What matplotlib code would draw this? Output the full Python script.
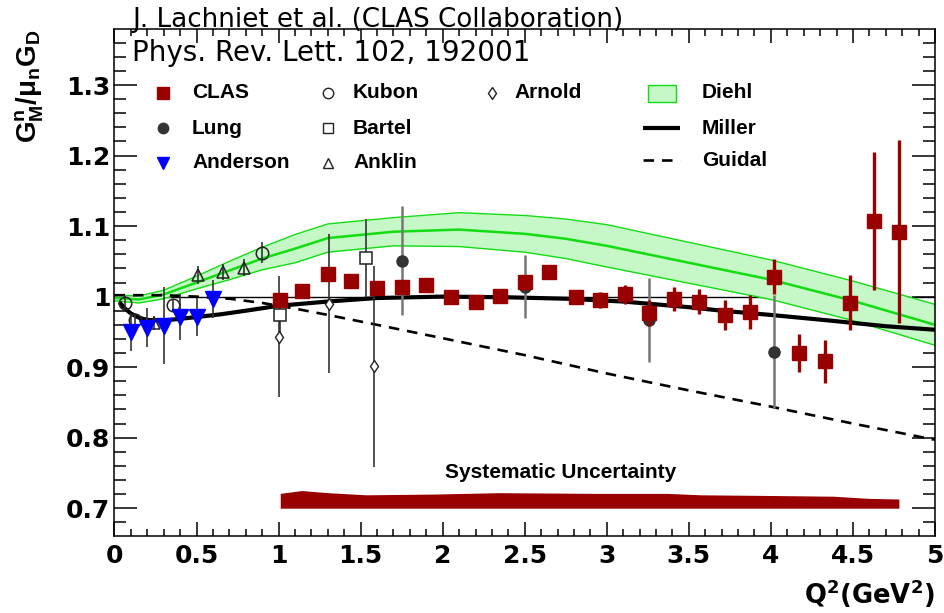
import matplotlib
matplotlib.use("Agg")
import matplotlib.pyplot as plt
from matplotlib.ticker import MultipleLocator, FuncFormatter
from matplotlib.patches import Rectangle

plt.rcParams['font.family'] = ['Liberation Sans', 'DejaVu Sans']
plt.rcParams['font.weight'] = 'bold'
plt.rcParams['mathtext.fontset'] = 'custom'
plt.rcParams['mathtext.rm'] = 'Liberation Sans:bold'
plt.rcParams['mathtext.bf'] = 'Liberation Sans:bold'
plt.rcParams['mathtext.it'] = 'Liberation Sans:bold'

# ---- measurements: G_M^n / (mu_n G_D) versus Q^2 (GeV^2) ----
clas_q2 = [1.01, 1.14, 1.30, 1.44, 1.60, 1.75, 1.90, 2.05, 2.20, 2.35, 2.50, 2.65, 2.81,
           2.96, 3.11, 3.26, 3.41, 3.56, 3.72, 3.87, 4.02, 4.17, 4.33, 4.48, 4.63, 4.78]
clas_val = [0.995, 1.008, 1.032, 1.022, 1.012, 1.014, 1.017, 1.000, 0.993, 1.001, 1.021,
            1.035, 1.000, 0.995, 1.003, 0.977, 0.997, 0.993, 0.974, 0.978, 1.028, 0.920,
            0.908, 0.991, 1.107, 1.092]
clas_err = [0.006, 0.005, 0.006, 0.005, 0.006, 0.006, 0.006, 0.005, 0.005, 0.005, 0.010,
            0.009, 0.010, 0.011, 0.014, 0.018, 0.017, 0.018, 0.021, 0.024, 0.025, 0.027,
            0.030, 0.039, 0.098, 0.130]

lung_q2 = [1.75, 2.50, 3.26, 4.02]
lung_val = [1.051, 1.014, 0.967, 0.922]
lung_err = [0.077, 0.045, 0.060, 0.080]

anderson_q2 = [0.1, 0.2, 0.3, 0.4, 0.5, 0.6]
anderson_val = [0.950, 0.956, 0.959, 0.971, 0.971, 0.997]
anderson_err = [0.027, 0.028, 0.055, 0.032, 0.027, 0.027]

kubon_q2 = [0.064, 0.125, 0.357, 0.90]
kubon_val = [0.991, 0.967, 0.988, 1.062]
kubon_err = [0.010, 0.010, 0.008, 0.015]

bartel_q2 = [1.01, 1.53]
bartel_val = [0.974, 1.055]
bartel_err = [0.030, 0.055]

anklin_q2 = [0.24, 0.51, 0.66, 0.79]
anklin_val = [0.962, 1.031, 1.035, 1.041]
anklin_err = [0.010, 0.013, 0.011, 0.012]

arnold_q2 = [1.00, 1.31, 1.58]
arnold_val = [0.943, 0.990, 0.901]
arnold_err = [0.086, 0.099, 0.142]

# systematic uncertainty band of the CLAS points
sys_q2 = [1.01, 1.14, 1.30, 1.53, 1.94, 2.34, 2.95, 3.37, 3.57, 4.00, 4.38, 4.59, 4.78]
sys_top = [0.721, 0.725, 0.722, 0.719, 0.720, 0.722, 0.721, 0.721, 0.719, 0.718, 0.717,
           0.714, 0.713]
sys_base = 0.70

# ---- model curves ----
diehl_q2 = [0.0, 0.15, 0.3, 0.5, 0.7, 0.9, 1.1, 1.3, 1.7, 2.1, 2.5, 2.75, 3.0, 3.5, 4.0,
            4.5, 5.0]
diehl_mid = [0.998, 0.996, 1.003, 1.020, 1.037, 1.054, 1.068, 1.083, 1.092, 1.095, 1.089,
             1.082, 1.072, 1.048, 1.024, 0.994, 0.960]
diehl_hi = [1.002, 1.001, 1.009, 1.029, 1.050, 1.070, 1.088, 1.103, 1.112, 1.119, 1.115,
            1.110, 1.102, 1.077, 1.052, 1.022, 0.989]
diehl_lo = [0.994, 0.991, 0.997, 1.011, 1.024, 1.038, 1.048, 1.063, 1.072, 1.071, 1.063,
            1.054, 1.042, 1.019, 0.996, 0.966, 0.931]

miller_q2 = [0.03, 0.06, 0.10, 0.15, 0.20, 0.28, 0.38, 0.50, 0.65, 0.80, 1.00, 1.30, 1.60,
             2.00, 2.40, 2.75, 3.10, 3.50, 3.70, 4.00, 4.36, 4.70, 5.00]
miller_val = [0.992, 0.984, 0.976, 0.970, 0.967, 0.966, 0.968, 0.971, 0.975, 0.980, 0.987,
              0.993, 0.998, 1.000, 0.999, 0.997, 0.993, 0.985, 0.980, 0.974, 0.966, 0.958,
              0.953]

guidal_q2 = [0.0, 0.3, 0.5, 0.7, 0.9, 1.1, 1.3, 1.6, 2.0, 2.5, 3.0, 3.5, 4.0, 4.5, 5.0]
guidal_val = [1.002, 1.002, 1.000, 0.997, 0.991, 0.983, 0.974, 0.960, 0.941, 0.917, 0.891,
              0.867, 0.844, 0.820, 0.797]

CLAS_RED = '#990000'
GREEN_FILL = '#c6f7c6'
GREEN_LINE = '#11dd11'
WIDE = 'DejaVu Sans'

fig = plt.figure(figsize=(9.45, 6.13), dpi=100)
W, H = 945.0, 613.0
ax = fig.add_axes([114.5 / W, 1 - 535.7 / H, 820.5 / W, 506.4 / H])
ax.set_xlim(0, 5)
ax.set_ylim(0.661, 1.379)

# reference line at unity
ax.axhline(1.0, color='black', lw=1.0, zorder=1)

# Diehl band
ax.fill_between(diehl_q2, diehl_lo, diehl_hi, color=GREEN_FILL, lw=0, zorder=2)
ax.plot(diehl_q2, diehl_hi, color=GREEN_LINE, lw=1.0, zorder=2)
ax.plot(diehl_q2, diehl_lo, color=GREEN_LINE, lw=1.0, zorder=2)
ax.plot(diehl_q2, diehl_mid, color=GREEN_LINE, lw=1.8, zorder=2)

# Miller and Guidal curves
ax.plot(miller_q2, miller_val, color='black', lw=3.0, zorder=3, solid_capstyle='butt')
ax.plot(guidal_q2, guidal_val, color='black', lw=1.9, ls=(0, (4, 3)), zorder=3)

# systematic uncertainty
ax.fill_between(sys_q2, sys_base, sys_top, color=CLAS_RED, lw=0, zorder=3)
ax.text(2.72, 0.751, 'Systematic Uncertainty', fontsize=15, ha='center', va='center')

# world data
err_kw = dict(ls='none', capsize=0, zorder=4)
ax.errorbar(arnold_q2, arnold_val, yerr=arnold_err, fmt='d', ms=6, mfc='white', mec='#222222',
            mew=1.0, ecolor='#333333', elinewidth=1.2, **err_kw)
ax.errorbar(bartel_q2, bartel_val, yerr=bartel_err, fmt='s', ms=9, mfc='white', mec='#222222',
            mew=1.1, ecolor='#333333', elinewidth=1.2, **err_kw)
ax.errorbar(anklin_q2, anklin_val, yerr=anklin_err, fmt='^', ms=9, mfc='none', mec='#222222',
            mew=1.1, ecolor='#333333', elinewidth=1.2, **err_kw)
ax.errorbar(kubon_q2, kubon_val, yerr=kubon_err, fmt='o', ms=9, mfc='none', mec='#222222',
            mew=1.1, ecolor='#333333', elinewidth=1.2, **err_kw)
ax.errorbar(anderson_q2, anderson_val, yerr=anderson_err, fmt='v', ms=11, mfc='#0000ff',
            mec='#0000ff', ecolor='#333333', elinewidth=1.2, **err_kw)
ax.errorbar(lung_q2, lung_val, yerr=lung_err, fmt='o', ms=8, mfc='#333333', mec='#333333',
            ecolor='#777777', elinewidth=1.8, **err_kw)

# CLAS
ax.errorbar(clas_q2, clas_val, yerr=clas_err, fmt='s', ms=10, mfc=CLAS_RED, mec=CLAS_RED,
            ecolor=CLAS_RED, elinewidth=2.4, ls='none', capsize=0, zorder=5)

# ---- axes styling ----
ax.xaxis.set_major_locator(MultipleLocator(0.5))
ax.xaxis.set_minor_locator(MultipleLocator(0.1))
ax.yaxis.set_major_locator(MultipleLocator(0.1))
ax.yaxis.set_minor_locator(MultipleLocator(0.02))
ax.xaxis.set_major_formatter(FuncFormatter(lambda v, p: f'{v:g}'))
ax.yaxis.set_major_formatter(FuncFormatter(lambda v, p: f'{round(v, 2):g}'))
ax.tick_params(which='both', direction='in', top=True, right=True, width=1.1,
               labelsize=18, labelfontfamily=WIDE)
ax.tick_params(axis='x', which='major', length=10, pad=6)
ax.tick_params(axis='x', which='minor', length=5)
ax.tick_params(axis='y', which='major', length=16.5, pad=3)
ax.tick_params(axis='y', which='minor', length=8.5)
for s in ax.spines.values():
    s.set_linewidth(1.1)

ax.text(1.0, -0.082, r'$\mathregular{Q^{2}(GeV^{2})}$', transform=ax.transAxes,
        ha='right', va='top', fontsize=18.5, family=WIDE)
fig.text(30 / W, 1 - 30 / H, r'$\mathregular{G^{n}_{M}/\mu_{n}G_{D}}$', rotation=90,
         ha='center', va='top', fontsize=20)

# ---- legend ----
def ax_xy(px, py):
    return ((px - 114.5) / 820.5, (535.7 - py) / 506.4)

leg_fs = 15
rows = [93, 128, 163]
col_items = [
    (163, 192, [('s', dict(ms=9, mfc=CLAS_RED, mec=CLAS_RED), 'CLAS'),
                ('o', dict(ms=7.5, mfc='#333333', mec='#333333'), 'Lung'),
                ('v', dict(ms=8, mfc='#0000ff', mec='#0000ff'), 'Anderson')]),
    (328, 353, [('o', dict(ms=7.5, mfc='none', mec='#222222', mew=1.0), 'Kubon'),
                ('s', dict(ms=7.5, mfc='none', mec='#222222', mew=1.0), 'Bartel'),
                ('^', dict(ms=7.5, mfc='none', mec='#222222', mew=1.0), 'Anklin')]),
    (492, 514, [('d', dict(ms=6, mfc='none', mec='#222222', mew=1.0), 'Arnold')]),
]
for mx, tx, items in col_items:
    for (mk, kw, label), py in zip(items, rows):
        x0, y0 = ax_xy(mx, py)
        ax.plot([x0], [y0], marker=mk, ls='none', transform=ax.transAxes,
                clip_on=False, zorder=6, **kw)
        x1, _ = ax_xy(tx, py)
        ax.text(x1, y0, label, transform=ax.transAxes, fontsize=leg_fs, va='center',
                ha='left')

sx0, sy0 = ax_xy(648, 102)
sx1, sy1 = ax_xy(676, 85)
ax.add_patch(Rectangle((sx0, sy0), sx1 - sx0, sy1 - sy0, transform=ax.transAxes,
                       facecolor=GREEN_FILL, edgecolor=GREEN_LINE, lw=1.0, clip_on=False))
lx0, ly_m = ax_xy(643, 128)
lx1, ly_g = ax_xy(680, 160)
ax.plot([lx0, lx1], [ly_m, ly_m], color='black', lw=3.0, transform=ax.transAxes,
        clip_on=False, solid_capstyle='butt')
ax.plot([lx0, lx1], [ly_g, ly_g], color='black', lw=1.9, ls=(0, (4, 3)),
        transform=ax.transAxes, clip_on=False)
for label, py in zip(['Diehl', 'Miller', 'Guidal'], [93, 128, 160]):
    tx, ty = ax_xy(702, py)
    ax.text(tx, ty, label, transform=ax.transAxes, fontsize=leg_fs, va='center', ha='left')

# ---- publication note ----
fig.text(132 / W, 1 - 27 / H, 'J. Lachniet et al. (CLAS Collaboration)', fontsize=18.8,
         fontweight='normal', family=WIDE, ha='left', va='baseline')
fig.text(132 / W, 1 - 61 / H, 'Phys. Rev. Lett. 102, 192001', fontsize=20,
         fontweight='normal', family=WIDE, ha='left', va='baseline')

fig.savefig('out.png', dpi=100)
